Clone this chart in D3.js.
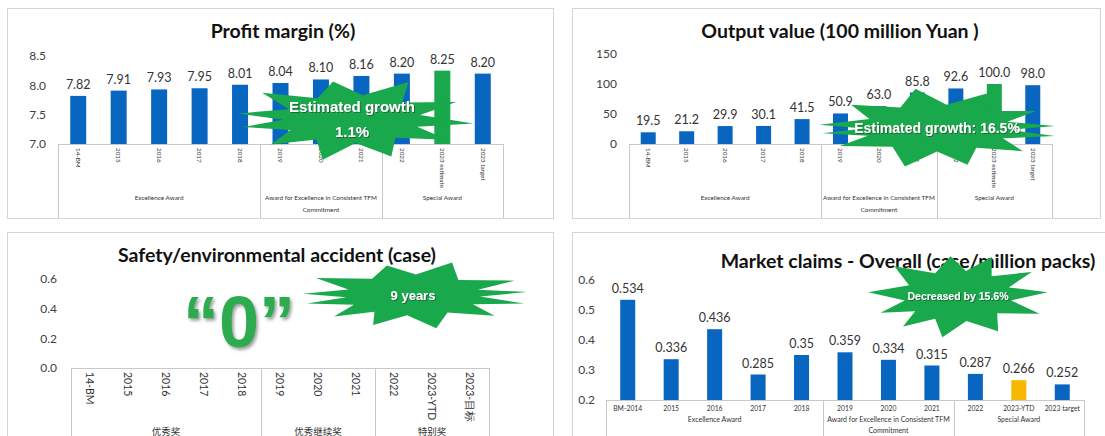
<!DOCTYPE html>
<html>
<head>
<meta charset="utf-8">
<script src="https://cdn.jsdelivr.net/npm/d3@7"></script>
<style>
  body { margin: 0; background: #fff; }
  svg { display: block; }
</style>
</head>
<body>
<svg id="chart" width="1105" height="436"></svg>
<script>
// ---- data ----
const categories = ["14-BM", "2015", "2016", "2017", "2018", "2019", "2020", "2021", "2022", "2023 estimate", "2023 target"];
const profitValues = [7.82, 7.91, 7.93, 7.95, 8.01, 8.04, 8.10, 8.16, 8.20, 8.25, 8.20];
const profitTicks = [7.0, 7.5, 8.0, 8.5];
const outputValues = [19.5, 21.2, 29.9, 30.1, 41.5, 50.9, 63.0, 85.8, 92.6, 100.0, 98.0];
const outputTicks = [0, 50, 100, 150];

const safetyCategories = ["14-BM", "2015", "2016", "2017", "2018", "2019", "2020", "2021", "2022", "2023-YTD", "2023-目标"];
const safetyValues = [0, 0, 0, 0, 0, 0, 0, 0, 0, 0, 0];
const safetyTicks = [0.0, 0.2, 0.4, 0.6];

const claimsCategories = ["BM-2014", "2015", "2016", "2017", "2018", "2019", "2020", "2021", "2022", "2023-YTD", "2023 target"];
const claimsValues = [0.534, 0.336, 0.436, 0.285, 0.35, 0.359, 0.334, 0.315, 0.287, 0.266, 0.252];
const claimsTicks = [0.2, 0.3, 0.4, 0.5, 0.6];

const groupSizes = [5, 3, 3];
const groupNamesEn = ["Excellence Award", "Award for Excellence in Consistent TFM Commitment", "Special Award"];
const groupNamesZh = ["优秀奖", "优秀继续奖", "特别奖"];

// ---- styling ----
const BLUE = "#0866c0";
const GREEN = "#19a84b";
const GOLD = "#f7b800";
const LABEL_FONT = "Lato, 'Open Sans', sans-serif";
const STAR_FONT = "'Liberation Sans', Arial, sans-serif";

const svg = d3.select("#chart");
const defs = svg.append("defs");
defs.append("filter").attr("id", "txtShadow").attr("x", "-20%").attr("y", "-40%").attr("width", "140%").attr("height", "180%")
  .append("feDropShadow").attr("dx", 1).attr("dy", 1).attr("stdDeviation", 0.7)
  .attr("flood-color", "#333").attr("flood-opacity", 0.55);
defs.append("filter").attr("id", "bigShadow").attr("x", "-20%").attr("y", "-20%").attr("width", "140%").attr("height", "140%")
  .append("feDropShadow").attr("dx", 2).attr("dy", 2.5).attr("stdDeviation", 1.6)
  .attr("flood-color", "#555").attr("flood-opacity", 0.55);

function wrapLines(textSel, words, limit) {
  const lines = [];
  let cur = [];
  words.forEach(w => {
    const trial = cur.concat([w]).join(" ");
    textSel.text(trial);
    if (cur.length && textSel.node().getComputedTextLength() > limit) {
      lines.push(cur.join(" "));
      cur = [w];
    } else {
      cur.push(w);
    }
  });
  if (cur.length) lines.push(cur.join(" "));
  return lines;
}

function drawPanel(p) {
  const g = svg.append("g");
  const [fx0, fy0, fx1, fy1] = p.frame;
  g.append("rect")
    .attr("x", fx0 + 0.5).attr("y", fy0 + 0.5)
    .attr("width", fx1 - fx0).attr("height", fy1 - fy0)
    .attr("fill", "#fff").attr("stroke", "#d4d4d4").attr("stroke-width", 1);

  const x = d3.scaleBand().domain(p.categories).range([p.boxX0, p.boxX1]).padding(0);
  const y = d3.scaleLinear().domain(p.domain).range([p.yBottom, p.yTop]);
  const bw = x.bandwidth();
  const barW = p.barW;

  // title
  g.append("text")
    .attr("x", p.titleX).attr("y", p.titleY)
    .attr("text-anchor", "middle")
    .style("font-family", LABEL_FONT).style("font-weight", 700)
    .style("font-size", p.titleSize + "px").attr("fill", "#111")
    .text(p.title);

  // value axis
  const yAxis = d3.axisLeft(y).tickValues(p.ticks).tickFormat(p.tickFormat).tickSize(0).tickPadding(0);
  const ya = g.append("g").attr("transform", `translate(${p.axisX},0)`).call(yAxis);
  ya.select(".domain").remove();
  ya.selectAll("text").style("font-family", LABEL_FONT).style("font-size", "12px").attr("fill", "#404040");

  // bars
  g.selectAll("rect.bar").data(p.values).join("rect")
    .attr("class", "bar")
    .attr("x", (d, i) => x(p.categories[i]) + (bw - barW) / 2)
    .attr("width", barW)
    .attr("y", d => y(Math.max(d, p.domain[0])))
    .attr("height", d => y(p.domain[0]) - y(Math.max(d, p.domain[0])))
    .attr("fill", (d, i) => p.highlight[p.categories[i]] || BLUE);

  // value labels
  if (p.valueFormat) {
    g.selectAll("text.val").data(p.values).join("text")
      .attr("class", "val")
      .attr("x", (d, i) => x(p.categories[i]) + bw / 2)
      .attr("y", d => y(d) - 7)
      .attr("text-anchor", "middle")
      .style("font-family", LABEL_FONT).style("font-size", "12.5px").attr("fill", "#333")
      .text(p.valueFormat);
  }

  // category frame
  const y0 = y(p.domain[0]);
  const frameCol = "#c8c8c8";
  g.append("line").attr("x1", p.boxX0).attr("x2", p.boxX1).attr("y1", y0 + 0.5).attr("y2", y0 + 0.5)
    .attr("stroke", frameCol);
  let idx = 0;
  const edges = [p.boxX0];
  groupSizes.forEach(s => { idx += s; edges.push(idx >= p.categories.length ? p.boxX1 : x(p.categories[idx])); });
  edges.forEach(ex => {
    g.append("line").attr("x1", Math.round(ex) + 0.5).attr("x2", Math.round(ex) + 0.5)
      .attr("y1", y0).attr("y2", p.boxBottom).attr("stroke", frameCol);
  });

  // category labels
  const xAxis = d3.axisBottom(x).tickSize(0).tickPadding(0);
  const xa = g.append("g").attr("transform", `translate(0,${y0})`).call(xAxis);
  xa.select(".domain").remove();
  const tx = xa.selectAll("text")
    .style("font-family", LABEL_FONT).style("font-size", p.catSize + "px").attr("fill", "#333");
  if (p.rotate) {
    tx.attr("transform", "rotate(90)").attr("x", p.catOffset).attr("y", 0).attr("dy", "0.35em")
      .style("text-anchor", "start");
  } else {
    tx.attr("y", p.catOffset).attr("dy", "0.71em");
  }

  // group labels
  p.groupNames.forEach((name, gi) => {
    const cx = (edges[gi] + edges[gi + 1]) / 2;
    const t = g.append("text")
      .attr("x", cx).attr("y", p.groupY)
      .attr("text-anchor", "middle")
      .style("font-family", p.groupFont || LABEL_FONT)
      .style("font-size", p.groupSize + "px").attr("fill", "#333");
    const lines = wrapLines(t, name.split(" "), edges[gi + 1] - edges[gi] + 2);
    t.text(null);
    lines.forEach((ln, li) => {
      t.append("tspan").attr("x", cx).attr("dy", li === 0 ? 0 : p.groupLineH).text(ln);
    });
  });
  return g;
}

// starburst callout: spikes given as [angle in degrees, relative reach]
function starburst(cx, cy, rx, ry, spikes, inner, lines, fontSize, lineH) {
  const s = spikes.slice().sort((a, b) => a[0] - b[0]);
  const pts = [];
  s.forEach((sp, i) => {
    const a = sp[0] * Math.PI / 180;
    pts.push([cx + rx * sp[1] * Math.cos(a), cy + ry * sp[1] * Math.sin(a)]);
    const nxt = s[(i + 1) % s.length][0] + (i === s.length - 1 ? 360 : 0);
    const m = ((sp[0] + nxt) / 2) * Math.PI / 180;
    pts.push([cx + rx * inner * Math.cos(m), cy + ry * inner * Math.sin(m)]);
  });
  svg.append("path").attr("d", d3.line()(pts) + "Z").attr("fill", GREEN);
  const n = lines.length;
  lines.forEach((ln, i) => {
    svg.append("text")
      .attr("x", cx).attr("y", cy + (i - (n - 1) / 2) * lineH)
      .attr("dy", "0.35em").attr("text-anchor", "middle")
      .style("font-family", STAR_FONT).style("font-weight", 700)
      .style("font-size", fontSize + "px").attr("fill", "#fff")
      .attr("filter", "url(#txtShadow)")
      .text(ln);
  });
}

// ---- panels ----
drawPanel({
  frame: [7, 8, 553, 218], title: "Profit margin (%)", titleX: 283, titleY: 38, titleSize: 19.5,
  categories: categories, values: profitValues, domain: [7.0, 8.5], ticks: profitTicks,
  tickFormat: d3.format(".1f"), valueFormat: d3.format(".2f"),
  yBottom: 144, yTop: 56, axisX: 46, boxX0: 58, boxX1: 503, boxBottom: 218, barW: 16,
  highlight: { "2023 estimate": GREEN },
  rotate: true, catSize: 6.3, catOffset: 4,
  groupNames: groupNamesEn, groupY: 200, groupSize: 6.4, groupLineH: 12
});

drawPanel({
  frame: [572, 8, 1100, 218], title: "Output value (100 million Yuan )", titleX: 840, titleY: 38, titleSize: 19.5,
  categories: categories, values: outputValues, domain: [0, 150], ticks: outputTicks,
  tickFormat: d3.format("d"), valueFormat: d3.format(".1f"),
  yBottom: 144, yTop: 54, axisX: 617, boxX0: 629, boxX1: 1052, boxBottom: 218, barW: 15,
  highlight: { "2023 estimate": GREEN },
  rotate: true, catSize: 6.3, catOffset: 4,
  groupNames: groupNamesEn, groupY: 200, groupSize: 6.4, groupLineH: 12
});

drawPanel({
  frame: [7, 232, 553, 440], title: "Safety/environmental accident (case)", titleX: 277, titleY: 262, titleSize: 19.5,
  categories: safetyCategories, values: safetyValues, domain: [0, 0.6], ticks: safetyTicks,
  tickFormat: d3.format(".1f"), valueFormat: null,
  yBottom: 368, yTop: 279, axisX: 57, boxX0: 71, boxX1: 489, boxBottom: 440, barW: 16,
  highlight: {},
  rotate: true, catSize: 10.5, catOffset: 4,
  groupNames: groupNamesZh, groupFont: "'Noto Sans CJK SC', sans-serif",
  groupY: 434.5, groupSize: 9.5, groupLineH: 12
});

drawPanel({
  frame: [572, 232, 1110, 440], title: "Market claims - Overall (case/million packs)", titleX: 908, titleY: 268, titleSize: 19.5,
  categories: claimsCategories, values: claimsValues, domain: [0.2, 0.6], ticks: claimsTicks,
  tickFormat: d3.format(".1f"), valueFormat: d => String(d),
  yBottom: 400, yTop: 280, axisX: 595, boxX0: 606, boxX1: 1084, boxBottom: 440, barW: 15,
  highlight: { "2023-YTD": GOLD },
  rotate: false, catSize: 6.8, catOffset: 6,
  groupNames: groupNamesEn, groupY: 422, groupSize: 7, groupLineH: 11
});

// ---- callouts ----
starburst(352, 119, 115, 40,
  [[-172, 1.0], [168, 0.97], [-140, 1.02], [-100, 0.95], [-62, 1.05], [-25, 1.0], [6, 1.06], [32, 0.98], [70, 1.0], [104, 1.05], [138, 0.95]],
  0.6, ["Estimated growth", "1.1%"], 15, 25);

starburst(937, 128, 118, 38,
  [[-175, 1.0], [172, 0.98], [150, 0.95], [-140, 0.95], [-100, 1.05], [-65, 1.0], [-28, 0.95], [-3, 1.0], [12, 1.02], [40, 0.95], [75, 1.0], [105, 1.05]],
  0.62, ["Estimated growth: 16.5%"], 14, 16);

starburst(413, 295, 112, 34,
  [[-178, 0.98], [165, 0.98], [-150, 1.0], [-105, 0.9], [-70, 1.02], [-25, 1.0], [-5, 1.02], [14, 1.02], [40, 0.95], [78, 1.0], [112, 0.95], [138, 0.95]],
  0.6, ["9 years"], 13, 16);

starburst(958, 296, 90, 42,
  [[-175, 1.0], [155, 0.95], [-135, 1.0], [-95, 0.95], [-68, 1.0], [-35, 1.0], [-5, 1.0], [25, 1.0], [62, 0.95], [100, 1.0], [130, 0.95]],
  0.6, ["Decreased by 15.6%"], 10.5, 14);

// big zero for the safety panel
svg.append("text")
  .attr("x", 239).attr("y", 347)
  .attr("text-anchor", "middle")
  .style("font-family", "'Liberation Sans Narrow', 'Liberation Sans', Arial, sans-serif")
  .style("font-weight", 700).style("font-size", "72px")
  .attr("fill", "#2daa4f").attr("filter", "url(#bigShadow)")
  .text("\u201C0\u201D");
</script>
</body>
</html>
